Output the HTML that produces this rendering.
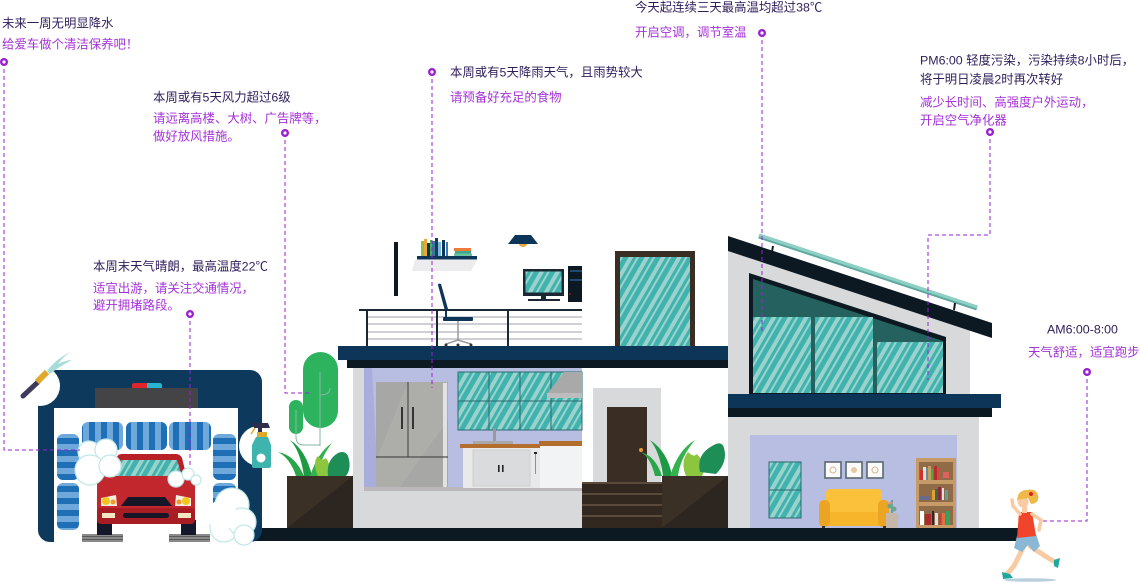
<!DOCTYPE html>
<html><head><meta charset="utf-8">
<style>
html,body{margin:0;padding:0;background:#fff;width:1140px;height:583px;overflow:hidden;}
svg{display:block;}
text{font-family:"Liberation Sans","Noto Sans CJK SC",sans-serif;font-size:12.4px;}
.t{fill:#2f1d5a;}
.s{fill:#a332d8;}
.d{stroke:#9b20d0;stroke-width:1;stroke-dasharray:4 3;fill:none;}
.dot{fill:#9b20d0;}
.bub{fill:#fff;stroke:#bfe8e8;stroke-width:1.2;}
</style></head><body>
<svg width="1140" height="583" viewBox="0 0 1140 583" xmlns="http://www.w3.org/2000/svg">
<defs>
<pattern id="glass" patternUnits="userSpaceOnUse" width="14" height="14" patternTransform="rotate(30)">
<rect width="14" height="14" fill="#41b3ae"/>
<rect x="1" width="4" height="14" fill="#9bd3cc"/>
<rect x="8" width="2" height="14" fill="#9bd3cc"/>
</pattern>
<pattern id="rollV" patternUnits="userSpaceOnUse" width="12" height="10">
<rect width="12" height="10" fill="#6fa9dc"/>
<rect x="5" width="6" height="10" fill="#1f6fb7"/>
</pattern>
<pattern id="rollH" patternUnits="userSpaceOnUse" width="10" height="12">
<rect width="10" height="12" fill="#6fa9dc"/>
<rect y="6" width="10" height="6" fill="#1f6fb7"/>
</pattern>
<pattern id="base" patternUnits="userSpaceOnUse" width="10" height="3">
<rect width="10" height="3" fill="#8a8a8a"/>
<rect y="2" width="10" height="1" fill="#5a5a5a"/>
</pattern>
</defs>

<!-- ground -->
<rect x="255" y="528" width="763" height="13" fill="#0c1923"/>

<!-- ========== CAR WASH ========== -->
<rect x="38" y="370" width="224" height="172" rx="12" fill="#0d3a5c"/>
<rect x="54" y="408" width="184" height="134" fill="#fff"/>
<rect x="95" y="388" width="103" height="20" fill="#444446"/>
<path d="M132,388 V385 Q132,383 135,383 H147 V388 Z" fill="#e0252d"/>
<path d="M147,388 V383 H159 Q162,383 162,385 V388 Z" fill="#29b4d0"/>
<!-- top rollers -->
<rect x="82" y="422" width="41" height="28" rx="6" fill="url(#rollV)"/>
<rect x="126" y="422" width="41" height="28" rx="6" fill="url(#rollV)"/>
<rect x="169" y="422" width="42" height="28" rx="6" fill="url(#rollV)"/>
<!-- side rollers -->
<rect x="57" y="434" width="22" height="46" rx="6" fill="url(#rollH)"/>
<rect x="57" y="483" width="22" height="47" rx="6" fill="url(#rollH)"/>
<rect x="213" y="434" width="23" height="46" rx="6" fill="url(#rollH)"/>
<rect x="213" y="483" width="23" height="47" rx="6" fill="url(#rollH)"/>
<!-- car -->
<rect x="82" y="534" width="41" height="8" fill="url(#base)"/>
<rect x="169" y="534" width="41" height="8" fill="url(#base)"/>
<rect x="97" y="520" width="15" height="15" fill="#15182a"/>
<rect x="181" y="520" width="15" height="15" fill="#15182a"/>
<path d="M110,478 L117,457 Q118,454 122,454 H176 Q180,454 182,458 L187,478 Z" fill="#b81f27"/>
<path d="M116,476 L121,460 H177 L182,476 Z" fill="url(#glass)"/>
<rect x="97" y="476" width="98" height="48" rx="6" fill="#c1272d"/>
<rect x="97" y="508" width="98" height="16" rx="4" fill="#a81d24"/>
<path d="M101,498 L116,495 L117,506 L101,506 Z" fill="#f5ede0"/>
<path d="M191,498 L176,495 L175,506 L191,506 Z" fill="#f5ede0"/>
<circle cx="106" cy="501" r="4" fill="#f4c51f"/>
<circle cx="113" cy="502" r="2.5" fill="#f09a2a"/>
<circle cx="186" cy="501" r="4" fill="#f4c51f"/>
<circle cx="179" cy="502" r="2.5" fill="#f09a2a"/>
<path d="M121,506 L128,497 H165 L172,506 Z" fill="#161626"/>
<rect x="123" y="513" width="46" height="5" rx="2.5" fill="#161626"/>
<rect x="102" y="513" width="13" height="5" fill="#f3e6c2"/>
<rect x="178" y="513" width="13" height="5" fill="#f3e6c2"/>
<!-- bubbles -->
<circle class="bub" cx="89" cy="452" r="11"/>
<circle class="bub" cx="106" cy="450" r="11"/>
<circle class="bub" cx="90" cy="470" r="15"/>
<circle class="bub" cx="110" cy="466" r="11"/>
<circle class="bub" cx="176" cy="479" r="8"/>
<circle class="bub" cx="188" cy="474" r="6"/>
<circle class="bub" cx="196" cy="480" r="5"/>
<circle class="bub" cx="232" cy="505" r="17"/>
<circle class="bub" cx="224" cy="528" r="14"/>
<circle class="bub" cx="242" cy="522" r="14"/>
<circle class="bub" cx="244" cy="535" r="10"/>
<circle cx="222" cy="515" r="15" fill="#fff"/>
<!-- hose -->
<circle cx="40" cy="386" r="20" fill="#fff"/>
<path d="M23,396 L38,382" stroke="#3d3a5c" stroke-width="5" stroke-linecap="round"/>
<path d="M37,382 L47,372" stroke="#e0a92c" stroke-width="6"/>
<path d="M47,371 Q55,360 70,352 Q62,358 58,364 Q66,360 72,360 Q60,366 50,374 Z" fill="#a8dcd8"/>
<!-- spray bottle -->
<circle cx="259" cy="446" r="20" fill="#fff"/>
<path d="M252,423 H268 L270,428 H262 V432 H258 V428 H254 Z" fill="#2f2e4c"/>
<path d="M255,428 L251,434" stroke="#e0a92c" stroke-width="1.5"/>
<rect x="257" y="432" width="10" height="5" fill="#e0a92c"/>
<path d="M256,437 H268 L271,445 V466 Q271,468 269,468 H254 Q252,468 252,466 V445 Z" fill="#3fb3ae"/>
<circle cx="261" cy="458" r="4.5" fill="#fff"/>

<!-- ========== LEFT PLANTER / CACTUS ========== -->
<rect x="303" y="352" width="35" height="76" rx="17.5" fill="#2db35d"/>
<rect x="289" y="400" width="14" height="34" rx="7" fill="#2db35d"/>
<path d="M320,372 V446 M320,395 Q330,395 330,388 M296,410 V437 Q296,445 304,445 H320" stroke="#86b8a6" stroke-width="1" fill="none"/>
<path d="M296,476 Q290,458 278,452 Q295,455 304,476 Z" fill="#2aa64a"/>
<path d="M304,476 Q300,450 290,440 Q306,450 312,476 Z" fill="#1f9a44"/>
<path d="M310,476 Q318,452 332,443 Q320,458 318,476 Z" fill="#35b24e"/>
<path d="M318,476 Q312,462 318,456 Q322,462 326,458 Q332,466 328,476 Z" fill="#8cc63f"/>
<path d="M328,476 Q326,460 338,453 Q345,450 348,456 Q352,468 346,476 Z" fill="#1e8e57"/>
<rect x="287" y="476" width="66" height="52" fill="#2d2520"/>
<path d="M287,476 H353 L287,528 Z" fill="#3b3026"/>

<!-- ========== KITCHEN BUILDING ========== -->
<rect x="338" y="346" width="397" height="14" fill="#0d3558"/>
<rect x="347" y="360" width="388" height="8" fill="#0c1923"/>
<rect x="353" y="368" width="229" height="160" fill="#d8d9db"/>
<rect x="364" y="368" width="218" height="120" fill="#b8bde2"/>
<path d="M364,368 H372 L378,487 H364 Z" fill="#a8addb"/>
<rect x="364" y="487" width="218" height="4" fill="#bcb7bb"/>
<!-- fridge -->
<rect x="376" y="382" width="72" height="105" fill="#a7a7a5"/>
<path d="M376,460 L408,382 H448 V420 L400,487 H376 Z" fill="#b0b0ae" opacity="0.6"/>
<rect x="443" y="383" width="4" height="104" fill="#e2e2e2"/>
<path d="M408,382 V457 M376,457 H448" stroke="#4e4e4e" stroke-width="1.2"/>
<rect x="401" y="407" width="2" height="22" fill="#333"/>
<rect x="412" y="407" width="2" height="22" fill="#333"/>
<!-- window -->
<rect x="458" y="372" width="124" height="58" fill="url(#glass)" stroke="#2b6b70" stroke-width="1"/>
<path d="M489,372 V430 M520,372 V430 M551,372 V430 M458,401 H582" stroke="#2b6b70" stroke-width="1"/>
<!-- hood -->
<path d="M564,372 H582 V394 H547 Z" fill="#a9a9a9"/>
<rect x="547" y="393" width="35" height="5" fill="#bdbdbd"/>
<!-- counter -->
<rect x="493" y="428" width="3" height="15" fill="#9a9a9a"/>
<rect x="473" y="441" width="40" height="3" fill="#a8a8a8"/>
<rect x="460" y="444" width="80" height="4" fill="#b36d2d"/>
<rect x="539" y="441" width="43" height="5" fill="#b36d2d"/>
<rect x="463" y="448" width="77" height="40" fill="#e9e9e9"/>
<rect x="540" y="446" width="42" height="42" fill="#f2f3f5"/>
<rect x="473" y="450" width="57" height="36" fill="#dadbdc" stroke="#cfcfcf"/>
<rect x="498" y="465" width="1.6" height="7" fill="#222"/>
<rect x="502" y="465" width="1.6" height="7" fill="#222"/>
<rect x="534" y="452" width="3" height="2" fill="#222"/>
<rect x="535" y="454" width="1" height="20" fill="#5aa0d8"/>
<!-- deck -->
<rect x="394" y="242" width="4" height="54" fill="#0c1923"/>
<path d="M415,260 H477 L471,271 H412 Z" fill="#ececee"/>
<rect x="421" y="241" width="3" height="15" fill="#8bc34a"/>
<rect x="424" y="239" width="3" height="17" fill="#f0a53a"/>
<rect x="427" y="243" width="3" height="13" fill="#0d3558"/>
<rect x="430" y="240" width="2" height="16" fill="#4caf50"/>
<rect x="432" y="241" width="3" height="15" fill="#2e7d9a"/>
<rect x="435" y="238" width="3" height="18" fill="#1b3a5a"/>
<rect x="438" y="242" width="3" height="14" fill="#7ab8e0"/>
<rect x="442" y="240" width="3" height="16" fill="#0d3558"/>
<rect x="446" y="242" width="2" height="14" fill="#3a7bbf"/>
<rect x="454" y="248" width="17" height="3" fill="#f07a3a"/>
<rect x="455" y="251" width="16" height="2.5" fill="#3ea88a"/>
<rect x="454" y="253.5" width="18" height="2.5" fill="#6ac0a0"/>
<rect x="417" y="256" width="60" height="3.5" fill="#0d3558"/>
<path d="M508,244 L515,235 H531 L538,244 Z" fill="#0d3558"/>
<path d="M519,244 A4,3 0 0 0 527,244 Z" fill="#f3a43b"/>
<rect x="523" y="269" width="41" height="27" fill="#1b2733"/>
<rect x="525.5" y="271.5" width="36" height="21" fill="url(#glass)"/>
<rect x="541" y="296" width="5" height="3" fill="#1b2733"/>
<rect x="528" y="299" width="32" height="2" fill="#1b2733"/>
<rect x="568" y="266" width="14" height="36" fill="#0c1923"/>
<rect x="570" y="270" width="12" height="2" fill="#1d4a6e"/>
<rect x="570" y="279" width="12" height="2" fill="#1d4a6e"/>
<circle cx="570" cy="294" r="0.8" fill="#e02020"/>
<!-- railing -->
<path d="M367,317 H582 M367,324 H582 M367,332 H582 M367,339 H582" stroke="#9ea2a8" stroke-width="1"/>
<path d="M359,310 H582" stroke="#1b2733" stroke-width="2"/>
<path d="M367,310 V346 M437,310 V346 M508,310 V346" stroke="#1b2733" stroke-width="2"/>
<!-- chair -->
<path d="M438,285 Q438,283 441,284 L448,309 L445,311 Z" fill="#0d3558"/>
<rect x="443" y="317" width="30" height="4" rx="1" fill="#0d3558"/>
<path d="M446,311 L446,317" stroke="#0d3558" stroke-width="2"/>
<path d="M458,321 V340 M446,344 L458,340 L471,344" stroke="#9a9a9a" stroke-width="1.5" fill="none"/>
<circle cx="446" cy="345" r="1.5" fill="#333"/><circle cx="458" cy="345" r="1.5" fill="#333"/><circle cx="471" cy="345" r="1.5" fill="#333"/>
<!-- tall window -->
<rect x="615" y="251" width="80" height="95" fill="#3a2e24"/>
<rect x="620" y="257" width="70" height="89" fill="url(#glass)"/>

<!-- door & stairs -->
<rect x="593" y="388" width="68" height="140" fill="#d8d9db"/>
<rect x="607" y="407" width="40" height="75" fill="#3a2e24"/>
<circle cx="641" cy="450" r="2" fill="#e8963a"/>
<rect x="582" y="482" width="80" height="46" fill="#332820"/>
<path d="M582,483 H662 M582,494 H662 M582,505 H662 M582,516 H662" stroke="#5a4a3c" stroke-width="2"/>
<!-- right planter -->
<path d="M655,476 Q650,456 640,452 Q655,455 662,476 Z" fill="#2aa64a"/>
<path d="M663,476 Q660,452 650,440 Q668,452 672,476 Z" fill="#1f9a44"/>
<path d="M670,476 Q678,450 695,440 Q680,458 678,476 Z" fill="#35b24e"/>
<path d="M686,476 Q680,462 688,452 Q694,458 697,454 Q708,466 702,476 Z" fill="#8cc63f"/>
<path d="M700,472 Q696,455 712,446 Q722,440 724,448 Q728,462 716,474 Z" fill="#1e8e57"/>
<rect x="662" y="476" width="66" height="52" fill="#2d2520"/>
<path d="M662,476 H728 L662,528 Z" fill="#3b3026"/>

<!-- ========== RIGHT HOUSE ========== -->
<path d="M728,244 L970,324 V395 H728 Z" fill="#d8d9db"/>
<path d="M728,236 L992,323 V338 L728,251 Z" fill="#0c1923"/>
<path d="M759,236 L977,308" stroke="#5fa8a0" stroke-width="5"/>
<path d="M759,235 L977,307" stroke="#8fd0c6" stroke-width="3"/>
<path d="M773,246 L772,252 M955,303 L954,310" stroke="#0c1923" stroke-width="2"/>
<path d="M749,273 L946,337 V395 H749 Z" fill="#0c1923"/>
<path d="M753,279 L943,341 V393 H753 Z" fill="#25625f"/>
<rect x="753" y="317" width="58" height="76" fill="url(#glass)"/>
<rect x="815" y="317" width="58" height="76" fill="url(#glass)"/>
<rect x="877" y="342" width="66" height="51" fill="url(#glass)"/>
<rect x="728" y="394" width="273" height="14" fill="#0d3558"/>
<rect x="728" y="408" width="264" height="9" fill="#0c1923"/>
<rect x="728" y="417" width="251" height="111" fill="#d8d9db"/>
<rect x="750" y="435" width="207" height="93" fill="#b8bde2"/>
<rect x="769" y="462" width="32" height="56" fill="url(#glass)" stroke="#2b6b70" stroke-width="1"/>
<path d="M769,490 H801" stroke="#2b6b70" stroke-width="1"/>
<rect x="825" y="462" width="16" height="16" fill="#fafafa" stroke="#5b6670" stroke-width="1.6"/>
<rect x="846" y="462" width="16" height="16" fill="#fafafa" stroke="#5b6670" stroke-width="1.6"/>
<rect x="867" y="462" width="16" height="16" fill="#fafafa" stroke="#5b6670" stroke-width="1.6"/>
<circle cx="833" cy="470" r="3" fill="none" stroke="#d8b890"/>
<circle cx="854" cy="470" r="3" fill="#e8c8a0"/>
<circle cx="875" cy="470" r="3" fill="none" stroke="#d8b890"/>
<!-- sofa -->
<rect x="826" y="489" width="56" height="24" rx="4" fill="#fcc13a"/>
<rect x="824" y="512" width="60" height="14" fill="#f6b52b"/>
<rect x="819" y="500" width="11" height="27" rx="5" fill="#eba523"/>
<rect x="878" y="500" width="11" height="27" rx="5" fill="#eba523"/>
<rect x="822" y="526" width="3" height="2" fill="#333"/><rect x="883" y="526" width="3" height="2" fill="#333"/>
<rect x="886" y="513" width="12" height="15" fill="#c7b7a8"/>
<path d="M892,513 V500" stroke="#4a9a7a" stroke-width="1.5"/>
<circle cx="890" cy="506" r="2.5" fill="#6aa88c"/><circle cx="894" cy="509" r="2.5" fill="#6aa88c"/><circle cx="891" cy="503" r="1.5" fill="#e08a8a"/>
<!-- bookshelf -->
<rect x="916" y="458" width="40" height="70" fill="#c79b68"/>
<rect x="919" y="462" width="34" height="18" fill="#8f6c47"/>
<rect x="919" y="484" width="34" height="18" fill="#8f6c47"/>
<rect x="919" y="506" width="34" height="19" fill="#8f6c47"/>
<rect x="920" y="470" width="3" height="10" fill="#d03030"/><rect x="923" y="467" width="3" height="13" fill="#e8e0d0"/><rect x="926" y="468" width="2" height="12" fill="#6a8a9a"/><rect x="928" y="466" width="3" height="14" fill="#c0a060"/><rect x="931" y="469" width="2" height="11" fill="#5aa040"/><rect x="934" y="466" width="3" height="14" fill="#b03030"/><rect x="937" y="468" width="2" height="12" fill="#e04040"/><rect x="943" y="472" width="6" height="6" fill="#e06060"/>
<rect x="920" y="496" width="10" height="4" fill="#6a6a8a"/><rect x="932" y="490" width="3" height="10" fill="#e0a030"/><rect x="935" y="489" width="3" height="11" fill="#3a6a4a"/><rect x="938" y="487" width="3" height="13" fill="#8a2a3a"/><rect x="942" y="488" width="2" height="12" fill="#e8e0d0"/><rect x="945" y="490" width="3" height="10" fill="#5aa0a0"/>
<rect x="920" y="511" width="4" height="14" fill="#fff"/><rect x="925" y="514" width="6" height="11" fill="#b02828"/><rect x="932" y="511" width="2" height="14" fill="#2a2a3a"/><rect x="935" y="513" width="3" height="12" fill="#e8e0d0"/><rect x="939" y="514" width="2" height="11" fill="#c04040"/><rect x="942" y="513" width="3" height="12" fill="#e07040"/><rect x="946" y="511" width="4" height="14" fill="#3aa060"/>

<!-- ========== RUNNER ========== -->
<ellipse cx="1030" cy="580" rx="26" ry="1.8" fill="#b8d0de"/>
<path d="M1023,548 L1014,566 L1006,575" stroke="#f8cba5" stroke-width="5" fill="none" stroke-linecap="round"/>
<path d="M1030,546 L1045,556 L1055,562" stroke="#f8cba5" stroke-width="5" fill="none" stroke-linecap="round"/>
<path d="M1002,572 L1010,574 L1013,578 L1003,579 Z" fill="#1fa89c"/>
<path d="M1054,560 L1060,558 L1058,568 L1054,566 Z" fill="#1fa89c"/>
<path d="M1017,536 L1036,534 L1040,546 L1034,552 L1028,545 L1022,552 L1014,548 Z" fill="#8ab8d4"/>
<path d="M1019,512 L1032,512 L1036,536 L1017,538 Z" fill="#f0452a"/>
<path d="M1020,514 L1013,506 L1012,500" stroke="#f8cba5" stroke-width="3.5" fill="none" stroke-linecap="round"/>
<path d="M1032,514 L1041,520 L1039,530" stroke="#f8cba5" stroke-width="3.5" fill="none" stroke-linecap="round"/>
<rect x="1022" y="504" width="5" height="9" fill="#f8cba5"/>
<circle cx="1023" cy="502" r="5.5" fill="#f8cba5"/>
<path d="M1017,500 Q1018,490 1027,490 Q1036,488 1038,495 Q1040,503 1031,504 L1028,498 Z" fill="#f0b848"/>
<circle cx="1031" cy="494" r="2" fill="#e02020"/>

<!-- ========== CONNECTORS ========== -->
<path class="d" d="M4,62 V450 H80"/>
<path class="d" d="M285,133 V393 H312"/>
<path class="d" d="M190,314 V465"/>
<path class="d" d="M432,72 V388"/>
<path class="d" d="M762,33 V333"/>
<path class="d" d="M990,132 V235 H928 V380"/>
<path class="d" d="M1087,372 V521 H1043"/>
<g>
<circle class="dot" cx="4" cy="62" r="4"/><circle cx="4" cy="62" r="1.6" fill="#fff"/>
<circle class="dot" cx="285" cy="133" r="4"/><circle cx="285" cy="133" r="1.6" fill="#fff"/>
<circle class="dot" cx="190" cy="314" r="4"/><circle cx="190" cy="314" r="1.6" fill="#fff"/>
<circle class="dot" cx="432" cy="72" r="4"/><circle cx="432" cy="72" r="1.6" fill="#fff"/>
<circle class="dot" cx="762" cy="33" r="4"/><circle cx="762" cy="33" r="1.6" fill="#fff"/>
<circle class="dot" cx="990" cy="132" r="4"/><circle cx="990" cy="132" r="1.6" fill="#fff"/>
<circle class="dot" cx="1087" cy="372" r="4"/><circle cx="1087" cy="372" r="1.6" fill="#fff"/>
</g>

<!-- ========== TEXT ========== -->
<text class="t" x="2" y="27.5">未来一周无明显降水</text>
<text class="s" x="2" y="48.5">给爱车做个清洁保养吧！</text>

<text class="t" x="153" y="101.5">本周或有5天风力超过6级</text>
<text class="s" x="153" y="122.5">请远离高楼、大树、广告牌等，</text>
<text class="s" x="153" y="140.5">做好放风措施。</text>

<text class="t" x="93" y="270.5">本周末天气晴朗，最高温度22℃</text>
<text class="s" x="93" y="292.5">适宜出游，请关注交通情况，</text>
<text class="s" x="93" y="309.5">避开拥堵路段。</text>

<text class="t" x="450" y="76.5">本周或有5天降雨天气，且雨势较大</text>
<text class="s" x="450" y="101.5">请预备好充足的食物</text>

<text class="t" x="635" y="11.5">今天起连续三天最高温均超过38℃</text>
<text class="s" x="635" y="36.5">开启空调，调节室温</text>

<text class="t" x="920" y="64.5">PM6:00 轻度污染，污染持续8小时后，</text>
<text class="t" x="920" y="83.5">将于明日凌晨2时再次转好</text>
<text class="s" x="920" y="106.5">减少长时间、高强度户外运动，</text>
<text class="s" x="920" y="124.5">开启空气净化器</text>

<text class="t" x="1047" y="333.5">AM6:00-8:00</text>
<text class="s" x="1028" y="356.5">天气舒适，适宜跑步</text>
</svg>
</body></html>
